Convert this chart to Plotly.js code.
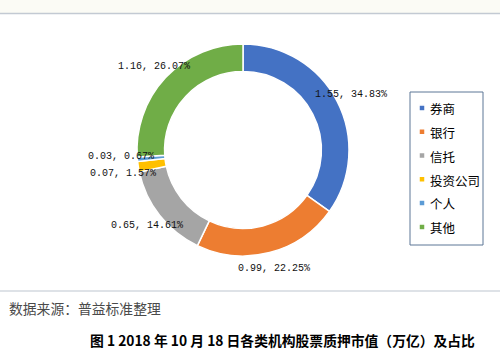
<!DOCTYPE html>
<html><head><meta charset="utf-8">
<script src="https://cdn.plot.ly/plotly-3.0.1.min.js"></script>
<style>
html,body{margin:0;padding:0;background:#fff;}
#chart{width:500px;height:355px;}
.legend path.legendpie{ d: path("M3,3H-3V-3H3Z"); transform: translate(32px,0px); }
</style></head><body><div id="chart"></div>
<script>
// ---- data ----
const categories = ['券商', '银行', '信托', '投资公司', '个人', '其他'];
const values = [1.55, 0.99, 0.65, 0.07, 0.03, 1.16];
const percents = [34.83, 22.25, 14.61, 1.57, 0.67, 26.07];
const sourceText = '数据来源：普益标准整理';
const captionText = '图 1 2018 年 10 月 18 日各类机构股票质押市值（万亿）及占比';

// ---- style ----
const colors = ['#4472C4', '#ED7D31', '#A5A5A5', '#FFC000', '#5B9BD5', '#70AD47'];
const W = 500, H = 355;
const cx = 243, cy = 150, R = 106, labelR = 122;
const px = x => x / W, py = y => 1 - y / H;

const total = values.reduce((a, b) => a + b, 0);

// label positions derived from the slice mid-angles
let cum = 0;
const labels = values.map((v, i) => {
  const mid = (cum + v / 2) / total * 2 * Math.PI;
  cum += v;
  return {i, x: cx + labelR * Math.sin(mid), y: cy - labelR * Math.cos(mid),
          text: v.toFixed(2) + ', ' + percents[i].toFixed(2) + '%'};
});
// simple vertical collision avoidance per side
['L', 'R'].forEach(side => {
  const grp = labels.filter(l => (side === 'L') === (l.x < cx)).sort((a, b) => a.y - b.y);
  for (let it = 0; it < 20; it++) {
    for (let k = 1; k < grp.length; k++) {
      const gap = grp[k].y - grp[k - 1].y;
      if (gap < 17) { const d = (17 - gap) / 2; grp[k].y += d; grp[k - 1].y -= d; }
    }
  }
});

const trace = {
  type: 'pie',
  labels: categories.map(c => '<span style="font-size:12.5px">' + c + '</span>'),
  values: values,
  sort: false,
  direction: 'clockwise',
  rotation: 0,
  hole: 0.74,
  textinfo: 'none',
  hoverinfo: 'skip',
  marker: {colors: colors, line: {color: '#ffffff', width: 1.5}},
  domain: {x: [px(cx - R), px(cx + R)], y: [py(cy + R), py(cy - R)]}
};

const annotations = labels.map(l => ({
  xref: 'paper', yref: 'paper', x: px(l.x), y: py(l.y),
  xanchor: 'center', yanchor: 'middle', showarrow: false,
  text: l.text, font: {family: 'Liberation Mono, monospace', size: 10, color: '#111'}
}));
annotations.push({
  xref: 'paper', yref: 'paper', x: px(7), y: py(308), xanchor: 'left', yanchor: 'middle',
  showarrow: false, text: sourceText,
  font: {family: 'Noto Sans CJK SC', size: 13.8, color: '#4a4a4a'}
});
annotations.push({
  xref: 'paper', yref: 'paper', x: px(282), y: py(340), xanchor: 'center', yanchor: 'middle',
  showarrow: false, text: '<b>' + captionText + '</b>',
  font: {family: 'Noto Sans CJK SC', size: 13.8, color: '#000'}
});

const layout = {
  width: W, height: H,
  margin: {l: 0, r: 0, t: 0, b: 0},
  paper_bgcolor: '#ffffff',
  showlegend: true,
  legend: {
    x: px(390), y: py(91), xanchor: 'left', yanchor: 'top',
    bgcolor: 'rgba(0,0,0,0)', borderwidth: 0,
    font: {family: 'Noto Sans CJK SC', size: 16, color: '#000'},
    traceorder: 'normal'
  },
  shapes: [
    {type: 'rect', xref: 'paper', yref: 'paper', x0: 0, x1: 1, y0: py(13), y1: 1,
     fillcolor: '#fbfbf5', line: {width: 0}, layer: 'below'},
    {type: 'line', xref: 'paper', yref: 'paper', x0: 0, x1: 1, y0: py(13.5), y1: py(13.5),
     line: {color: '#c3cad3', width: 1.5}},
    {type: 'line', xref: 'paper', yref: 'paper', x0: 0, x1: 1, y0: py(291), y1: py(291),
     line: {color: '#d3d9df', width: 1.5}},
    {type: 'rect', xref: 'paper', yref: 'paper', x0: px(410), x1: px(483), y0: py(245), y1: py(92),
     line: {color: '#5d7696', width: 1}, fillcolor: 'rgba(0,0,0,0)'}
  ],
  annotations: annotations
};

Plotly.newPlot('chart', [trace], layout, {displayModeBar: false, staticPlot: true});
</script>
</body></html>
